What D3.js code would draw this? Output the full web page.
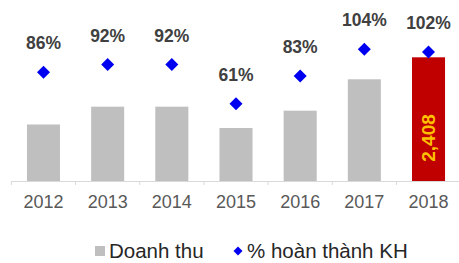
<!DOCTYPE html>
<html>
<head>
<meta charset="utf-8">
<style>
  body { margin: 0; background: #fff; }
  svg { display: block; font-family: "Liberation Sans", Arial, sans-serif; }
</style>
</head>
<body>
<div id="chart"></div>
<script src="https://d3js.org/d3.v7.min.js"></script>
<script>

const years = ["2012", "2013", "2014", "2015", "2016", "2017", "2018"];
const revenue = [1100, 1447, 1447, 1032, 1369, 1980, 2408];
const completion = [86, 92, 92, 61, 83, 104, 102];
const highlightLabel = "2,408";

const width = 459, height = 263;
const baseY = 181;

const svg = d3.select("#chart").append("svg")
  .attr("width", width)
  .attr("height", height);

const x = d3.scaleBand()
  .domain(years)
  .range([11.4, 460.6])
  .paddingInner(0.485)
  .paddingOuter(0.2425);

const yBar = d3.scaleLinear()
  .domain([0, 2408])
  .range([baseY, 57.3]);

const yPct = d3.scaleLinear()
  .domain([0, 143])
  .range([baseY, 0]);

// bars
svg.append("g")
  .selectAll("rect")
  .data(years)
  .enter().append("rect")
  .attr("x", d => x(d))
  .attr("width", x.bandwidth())
  .attr("y", (d, i) => yBar(revenue[i]))
  .attr("height", (d, i) => baseY - yBar(revenue[i]))
  .attr("fill", (d, i) => i === years.length - 1 ? "#C00000" : "#BFBFBF");

// label inside last bar
const last = years.length - 1;
svg.append("text")
  .attr("transform", `translate(${x(years[last]) + x.bandwidth() / 2 + 6.5},138) rotate(-90)`)
  .attr("text-anchor", "middle")
  .attr("font-size", 19)
  .attr("font-weight", "bold")
  .attr("fill", "#FFC000")
  .text(highlightLabel);

// x axis
const axis = svg.append("g")
  .attr("transform", `translate(0,${baseY})`)
  .call(d3.axisBottom(x).tickSize(0).tickPadding(14.7));
axis.select(".domain")
  .attr("stroke", "#D9D9D9")
  .attr("d", "M11.4,0.5H460.6");
axis.selectAll("text")
  .attr("font-size", 18)
  .attr("font-family", "Liberation Sans, Arial, sans-serif")
  .attr("fill", "#595959");

// category separators on axis
const bounds = years.map(d => x(d) - x.step() * x.paddingInner() / 2).concat([460.6]);
svg.append("g")
  .selectAll("line")
  .data(bounds)
  .enter().append("line")
  .attr("x1", d => d).attr("x2", d => d)
  .attr("y1", baseY).attr("y2", baseY + 4)
  .attr("stroke", "#D9D9D9");

// diamonds
const diamond = r => `M0,${-r}L${r},0L0,${r}L${-r},0Z`;
svg.append("g")
  .selectAll("path")
  .data(years)
  .enter().append("path")
  .attr("transform", (d, i) => `translate(${x(d) + x.bandwidth() / 2},${yPct(completion[i])})`)
  .attr("d", diamond(6.5))
  .attr("fill", "#0000F0");

// percent labels
svg.append("g")
  .selectAll("text")
  .data(years)
  .enter().append("text")
  .attr("x", d => x(d) + x.bandwidth() / 2)
  .attr("y", (d, i) => yPct(completion[i]) - 23)
  .attr("text-anchor", "middle")
  .attr("font-size", 17.5)
  .attr("font-weight", "bold")
  .attr("fill", "#404040")
  .text((d, i) => completion[i] + "%");

// legend
const legend = svg.append("g").attr("transform", "translate(0,251)");
legend.append("rect")
  .attr("x", 95).attr("y", -5)
  .attr("width", 10).attr("height", 10)
  .attr("fill", "#BFBFBF");
legend.append("text")
  .attr("x", 109).attr("y", 6.5)
  .attr("font-size", 20.5)
  .attr("fill", "#262626")
  .text("Doanh thu");
legend.append("path")
  .attr("transform", "translate(238,0)")
  .attr("d", diamond(4.5))
  .attr("fill", "#0000F0");
legend.append("text")
  .attr("x", 247).attr("y", 6.5)
  .attr("font-size", 20.5)
  .attr("fill", "#262626")
  .text("% hoàn thành KH");

</script>
</body>
</html>
